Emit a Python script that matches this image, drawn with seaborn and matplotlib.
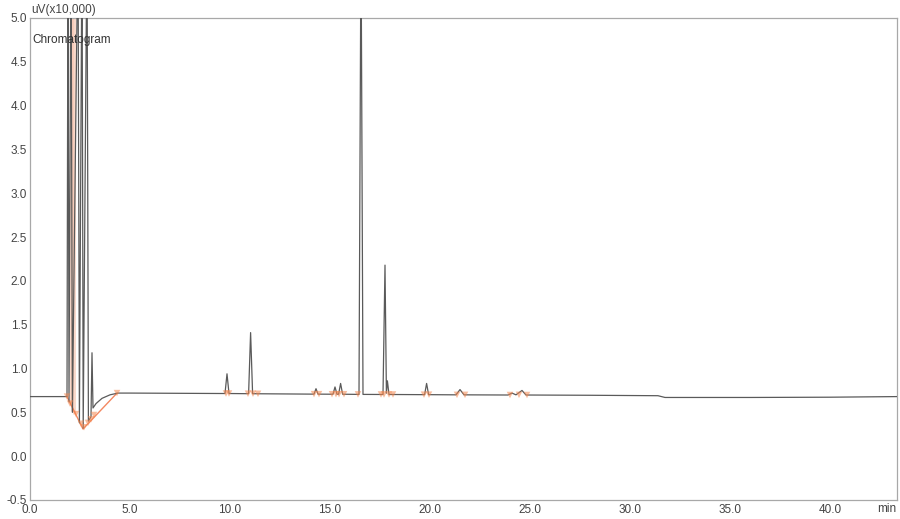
import numpy as np
import pandas as pd
import matplotlib
matplotlib.use("Agg")
import matplotlib.pyplot as plt
import seaborn as sns

sns.set_theme(style="white")
plt.rcParams["font.family"] = ["Liberation Sans", "DejaVu Sans"]

# Detector trace (min, uV x10,000), vertices of the recorded signal
trace_time = [0.0, 1.85, 1.9, 1.95, 2.05, 2.12, 2.4, 2.47, 2.6, 2.66, 2.85, 2.92,
              3.05, 3.1, 3.15, 3.3, 3.6, 4.0, 4.4, 5.0,
              9.75, 9.85, 9.95, 10.93, 11.03, 11.13, 11.6,
              14.2, 14.3, 14.4, 15.15, 15.25, 15.35, 15.43, 15.53, 15.63,
              16.45, 16.55, 16.65, 17.65, 17.75, 17.82, 17.87, 17.95,
              19.73, 19.83, 19.93, 21.3, 21.5, 21.7, 23.9, 24.1, 24.3, 24.6, 24.8,
              28.0, 31.4, 31.75, 36.0, 40.0, 43.35]
trace_signal = [0.68, 0.68, 6.0, 0.62, 6.0, 0.50, 6.0, 0.38, 6.0, 0.32, 6.0, 0.40,
                0.45, 1.18, 0.55, 0.60, 0.66, 0.70, 0.72, 0.72,
                0.715, 0.94, 0.715, 0.713, 1.41, 0.713, 0.712,
                0.708, 0.77, 0.708, 0.707, 0.79, 0.707, 0.707, 0.83, 0.707,
                0.705, 6.0, 0.705, 0.704, 2.18, 0.72, 0.86, 0.704,
                0.702, 0.83, 0.702, 0.70, 0.76, 0.70, 0.698, 0.72, 0.70, 0.75, 0.698,
                0.695, 0.69, 0.67, 0.67, 0.673, 0.68]

# Integration marks (peak start/end points)
mark_time = [1.85, 2.0, 2.3, 2.55, 2.7, 2.9, 3.05, 3.2, 4.35, 9.8, 9.95, 10.9, 11.15, 11.4,
             14.2, 14.45, 15.1, 15.3, 15.45, 15.7, 16.4, 17.55, 17.7, 17.95, 18.15,
             19.7, 19.95, 21.35, 21.75, 24.0, 24.45, 24.85]
mark_signal = [0.68, 0.60, 0.48, 0.37, 0.33, 0.38, 0.42, 0.47, 0.72, 0.715, 0.715, 0.713, 0.713, 0.712,
               0.708, 0.708, 0.707, 0.707, 0.707, 0.707, 0.705, 0.704, 0.704, 0.704, 0.704,
               0.702, 0.702, 0.70, 0.70, 0.698, 0.70, 0.698]

# Drawn integration baseline under the solvent front
base_time = [1.85, 2.65, 4.35]
base_signal = [0.68, 0.31, 0.72]

# Cut-off peak apexes shaded in the solvent region, with their foot levels
front_time = [2.05, 2.12, 2.2]
front_foot = [0.58, 0.52, 0.48]

xticks = [0, 5, 10, 15, 20, 25, 30, 35, 40]
yticks = [-0.5, 0.0, 0.5, 1.0, 1.5, 2.0, 2.5, 3.0, 3.5, 4.0, 4.5, 5.0]

trace = pd.DataFrame({"time": trace_time, "signal": trace_signal})
marks = pd.DataFrame({"time": mark_time, "signal": mark_signal})
base = pd.DataFrame({"time": base_time, "signal": base_signal})

fig = plt.figure(figsize=(9.0, 5.19), dpi=100)
ax = fig.add_axes([30 / 900, 1 - 500 / 519, 867 / 900, 482 / 519])

ax.vlines(front_time, front_foot, 5.0, color="#f7c9b5", lw=2.2, alpha=0.7, zorder=1)

sns.lineplot(data=base, x="time", y="signal", sort=False, ax=ax,
             color="#f06a3a", lw=1.0, alpha=0.8, zorder=2)
sns.lineplot(data=trace, x="time", y="signal", sort=False, ax=ax,
             color="#5a5a5a", lw=0.9, zorder=3)
sns.scatterplot(data=marks, x="time", y="signal", ax=ax, marker="v",
                s=22, color="#f4874f", alpha=0.55, edgecolor="none", zorder=4)

ax.set_xlim(0, 43.35)
ax.set_ylim(-0.5, 5.0)
ax.set_xticks(xticks)
ax.set_yticks(yticks)
ax.set_xticklabels([f"{v:.1f}" for v in xticks])
ax.set_yticklabels([f"{v:.1f}" for v in yticks])
ax.set_xlabel("")
ax.set_ylabel("")
ax.tick_params(axis="both", labelsize=8.5, colors="#444444", length=2,
               direction="in", pad=2)
ax.tick_params(axis="x", pad=3)
for s in ax.spines.values():
    s.set_color("#a8a8a8")
    s.set_linewidth(0.9)

fig.text(31 / 900, 1 - 10 / 519, "uV(x10,000)", fontsize=8.5, color="#444444",
         ha="left", va="center")
ax.text(0.003, 0.955, "Chromatogram", transform=ax.transAxes, fontsize=8.5,
        color="#333333", ha="left", va="center")
fig.text(887 / 900, 1 - 509 / 519, "min", fontsize=8.5, color="#444444",
         ha="center", va="center")

fig.savefig("out.png", dpi=100)
